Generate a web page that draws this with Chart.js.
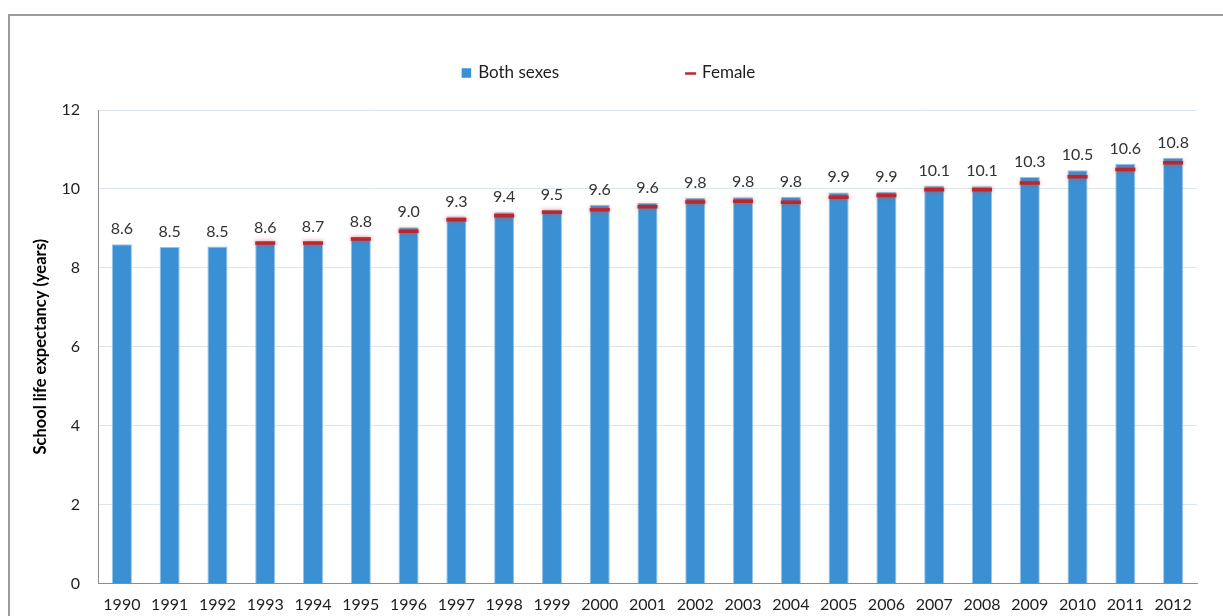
<!DOCTYPE html>
<html>
<head>
<meta charset="utf-8">
<script src="https://cdn.jsdelivr.net/npm/chart.js@4.4.1/dist/chart.umd.min.js"></script>
<style>
  html, body { margin: 0; padding: 0; background: #ffffff; overflow: hidden; }
  #frame { position: absolute; left: 8px; top: 14px; width: 1260px; height: 700px;
           border-top: 2px solid #9a9a9a; border-left: 2px solid #9a9a9a; box-sizing: border-box; }
  #wrap { position: absolute; left: 0; top: 0; width: 1223px; height: 616px; }
</style>
</head>
<body>
<div id="frame"></div>
<div id="wrap"><canvas id="c" width="1223" height="616"></canvas></div>
<script>
const years = ['1990','1991','1992','1993','1994','1995','1996','1997','1998','1999','2000',
               '2001','2002','2003','2004','2005','2006','2007','2008','2009','2010','2011','2012'];
const bothSexes = [8.60, 8.53, 8.54, 8.64, 8.66, 8.79, 9.03, 9.30, 9.41, 9.47, 9.60,
                   9.64, 9.77, 9.79, 9.80, 9.91, 9.92, 10.08, 10.07, 10.30, 10.47, 10.64, 10.79];
const female = [null, null, null, 8.63, 8.63, 8.73, 8.93, 9.22, 9.32, 9.41, 9.47,
                9.55, 9.67, 9.69, 9.66, 9.79, 9.83, 9.98, 9.98, 10.15, 10.31, 10.49, 10.66];
const yTicks = [0, 2, 4, 6, 8, 10, 12];
const seriesNames = ['Both sexes', 'Female'];
const yTitle = 'School life expectancy (years)';

const FONT = 'Lato';
const BLUE = '#3A90D3';
const RED = '#B8282E';
const TEXT = '#1e1e1e';

const valueLabels = {
  id: 'valueLabels',
  afterDatasetsDraw(chart) {
    const meta = chart.getDatasetMeta(0);
    const ctx = chart.ctx;
    ctx.save();
    ctx.font = '16px ' + FONT;
    ctx.fillStyle = '#333333';
    ctx.textAlign = 'center';
    ctx.textBaseline = 'alphabetic';
    meta.data.forEach((bar, i) => {
      ctx.fillText(bothSexes[i].toFixed(1), bar.x, bar.y - 10);
    });
    ctx.restore();
  }
};

const glow = {
  id: 'glow',
  beforeDatasetDraw(chart, args) {
    if (args.index === 1) {
      const ctx = chart.ctx;
      ctx.save();
      ctx.shadowColor = 'rgba(215,70,70,0.75)';
      ctx.shadowBlur = 4;
    }
  },
  afterDatasetDraw(chart, args) {
    if (args.index === 1) chart.ctx.restore();
  }
};

const customLegend = {
  id: 'customLegend',
  afterDraw(chart) {
    const ctx = chart.ctx;
    ctx.save();
    ctx.font = '17px ' + FONT;
    ctx.textBaseline = 'middle';
    ctx.textAlign = 'left';
    const box = 9.5, gap = 7, spacing = 126;
    const t1 = ctx.measureText(seriesNames[0]).width;
    const t2 = ctx.measureText(seriesNames[1]).width;
    const w1 = box + gap + t1;
    const w2 = 11 + 6 + t2;
    const total = w1 + spacing + w2;
    let x = chart.width / 2 - 3 - total / 2;
    const y = 73;
    ctx.fillStyle = BLUE;
    ctx.fillRect(x, y - box / 2, box, box);
    ctx.fillStyle = TEXT;
    ctx.fillText(seriesNames[0], x + box + gap, y);
    x += w1 + spacing;
    ctx.strokeStyle = RED;
    ctx.lineWidth = 2.5;
    ctx.beginPath();
    ctx.moveTo(x, y + 0.5);
    ctx.lineTo(x + 11, y + 0.5);
    ctx.stroke();
    ctx.fillText(seriesNames[1], x + 11 + 6, y);
    ctx.restore();
  }
};

new Chart(document.getElementById('c'), {
  data: {
    labels: years,
    datasets: [
      {
        type: 'bar',
        label: seriesNames[0],
        data: bothSexes,
        backgroundColor: BLUE,
        borderColor: 'rgba(140,190,232,0.9)',
        borderWidth: 1,
        barPercentage: 0.42,
        categoryPercentage: 1.0,
        order: 1
      },
      {
        type: 'line',
        label: seriesNames[1],
        data: female,
        showLine: false,
        pointStyle: 'line',
        pointRadius: 10,
        pointHoverRadius: 10,
        pointBorderWidth: 3.5,
        borderColor: RED,
        backgroundColor: RED,
        order: 0
      }
    ]
  },
  options: {
    responsive: false,
    animation: false,
    events: [],
    layout: { padding: { top: 110, right: 26, bottom: 0, left: 0 } },
    plugins: {
      legend: { display: false },
      tooltip: { enabled: false },
      title: { display: false }
    },
    scales: {
      x: {
        grid: { display: false, drawTicks: false },
        border: { display: true, color: '#8c8c8c', width: 1 },
        ticks: { font: { family: FONT, size: 16 }, color: TEXT, padding: 12,
                 maxRotation: 0, autoSkip: false },
        afterFit(s) { s.height = 32.5; }
      },
      y: {
        min: 0, max: 12,
        afterBuildTicks(s) { s.ticks = yTicks.map(v => ({ value: v })); },
        grid: { color: '#dce4ec', drawTicks: false },
        border: { display: true, color: '#8c8c8c', width: 1 },
        ticks: { font: { family: FONT, size: 16 }, color: TEXT, padding: 18 },
        title: { display: true, text: yTitle,
                 font: { family: FONT, size: 16.5, weight: 'bold' }, color: '#000000',
                 padding: { top: 31, bottom: 0 } },
        afterFit(s) { s.width = 98; }
      }
    }
  },
  plugins: [valueLabels, glow, customLegend]
});
</script>
</body>
</html>
